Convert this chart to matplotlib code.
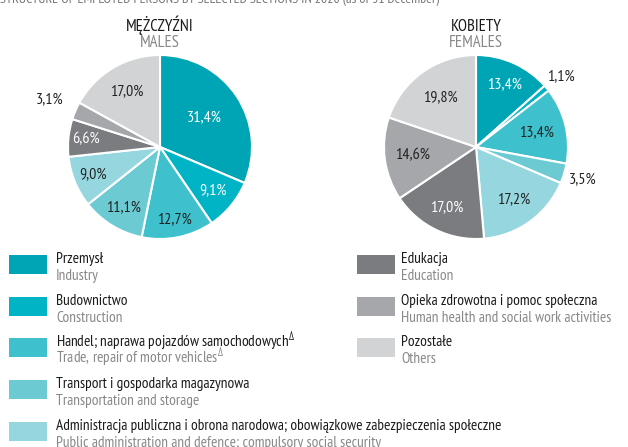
import matplotlib.pyplot as plt
from matplotlib.patches import Rectangle
import numpy as np

plt.rcParams['font.family'] = ['PT Sans Narrow', 'DejaVu Sans']
plt.rcParams['mathtext.fontset'] = 'custom'
plt.rcParams['mathtext.rm'] = 'PT Sans Narrow'

W, H = 628, 447

# data
males = [31.4, 9.1, 12.7, 11.1, 9.0, 6.6, 3.1, 17.0]
females = [13.4, 1.1, 13.4, 3.5, 17.2, 17.0, 14.6, 19.8]
colors = ["#00a5b5", "#00b4c6", "#3ec1cc", "#6ccad3", "#96d7df",
          "#7b7c80", "#a6a7ab", "#d2d3d5"]
pl_labels = ["Przemysł", "Budownictwo",
             "Handel; naprawa pojazdów samochodowych$^{\\Delta}$",
             "Transport i gospodarka magazynowa",
             "Administracja publiczna i obrona narodowa; obowiązkowe zabezpieczenia społeczne",
             "Edukacja", "Opieka zdrowotna i pomoc społeczna", "Pozostałe"]
en_labels = ["Industry", "Construction",
             "Trade, repair of motor vehicles$^{\\Delta}$",
             "Transportation and storage",
             "Public administration and defence; compulsory social security",
             "Education", "Human health and social work activities", "Others"]

# label radius (fraction of pie radius) and text colour per slice
m_dist = [0.58, 0.74, 0.80, 0.77, 0.79, 0.81, 1.31, 0.70]
f_dist = [0.75, 1.20, 0.68, 1.21, 0.70, 0.73, 0.70, 0.66]
m_txt = ["white", "white", "#222222", "#222222", "#222222", "white", "#222222", "#222222"]
f_txt = ["white", "#222222", "#222222", "#222222", "#222222", "white", "#222222", "#222222"]

fig = plt.figure(figsize=(W / 100, H / 100), dpi=100)


def px(x, y):
    return x / W, 1 - y / H


def draw_pie(cx, cy, r, vals, dists, tcols, title_pl, title_en):
    ax = fig.add_axes([(cx - r) / W, 1 - (cy + r) / H, 2 * r / W, 2 * r / H])
    wedges, _ = ax.pie(vals, colors=colors, startangle=90, counterclock=False,
                       wedgeprops=dict(edgecolor="white", linewidth=1.5))
    for w, v, d, c in zip(wedges, vals, dists, tcols):
        a = np.deg2rad((w.theta1 + w.theta2) / 2)
        ax.text(d * np.cos(a), d * np.sin(a), f"{v:.1f}%".replace(".", ","),
                ha="center", va="center", fontsize=11.5, color=c)
    ax.set_xlim(-1, 1)
    ax.set_ylim(-1, 1)
    ax.axis("off")
    fig.text(*px(cx, 31), title_pl, ha="center", va="baseline", fontsize=12, color="#1a1a1a")
    fig.text(*px(cx, 47), title_en, ha="center", va="baseline", fontsize=12, color="#888888")


draw_pie(160, 147, 92, males, m_dist, m_txt, "MĘŻCZYŹNI", "MALES")
draw_pie(476, 147, 92, females, f_dist, f_txt, "KOBIETY", "FEMALES")

fig.text(0.0, 1.0, "STRUCTURE OF EMPLOYED PERSONS BY SELECTED SECTIONS IN 2020 (as of 31 December)",
         ha="left", va="center", fontsize=10, color="#777777")

# legend
rows = [(9, 255), (9, 297), (9, 338), (9, 380), (9, 422),
        (357, 255), (357, 297), (357, 338)]
for (x, y), col, pl, en in zip(rows, colors, pl_labels, en_labels):
    fx, fy = px(x, y + 19)
    fig.patches.append(Rectangle((fx, fy), 38 / W, 19 / H, transform=fig.transFigure,
                                 facecolor=col, edgecolor="none"))
    tx = x + 47 if x < 100 else x + 44
    fig.text(*px(tx, y + 8), pl, ha="left", va="baseline", fontsize=11, color="#1a1a1a")
    fig.text(*px(tx, y + 25), en, ha="left", va="baseline", fontsize=11, color="#888888")

fig.savefig("out.png", dpi=100)
